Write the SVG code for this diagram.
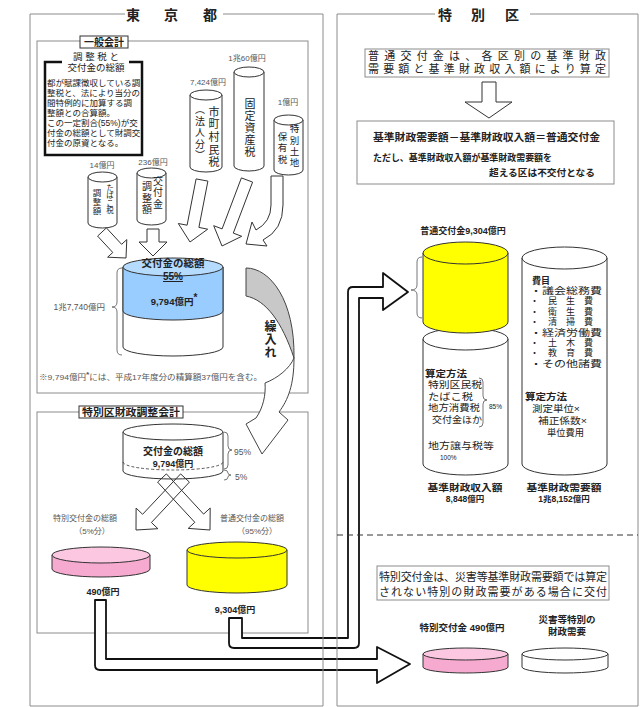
<svg xmlns="http://www.w3.org/2000/svg" width="643" height="707" viewBox="0 0 643 707">
<style>
text{font-family:"Liberation Sans","Noto Sans CJK JP",sans-serif;fill:#222}
.b{font-weight:bold}
.g{fill:#555}
.m{text-anchor:middle}
.v{writing-mode:vertical-rl}
.fr{fill:none;stroke:#8c8c8c;stroke-width:1}
.box{fill:#fff;stroke:#8c8c8c;stroke-width:1}
.cy{stroke:#333;stroke-width:1}
.ha{fill:#fff;stroke:#333;stroke-width:1}
.big{fill:#fff;stroke:#111;stroke-width:1.8;stroke-linejoin:round}
.br{fill:none;stroke:#666;stroke-width:0.9}
</style>
<rect width="643" height="707" fill="#fff"/>

<!-- inner boxes -->
<g id="box-ippan">
<rect class="fr" x="37" y="41" width="271" height="352"/>
<rect x="80" y="36" width="48" height="12" fill="#fff" stroke="#333" stroke-width="1"/>
<text class="b m" x="104" y="46" font-size="10">一般会計</text>
</g>
<g id="box-tokubetsu">
<rect class="fr" x="37" y="412" width="271" height="221"/>
<rect x="79" y="406" width="104" height="12" fill="#fff" stroke="#333" stroke-width="1"/>
<text class="b" x="82" y="416" font-size="10" textLength="98" lengthAdjust="spacingAndGlyphs">特別区財政調整会計</text>
</g>

<!-- big connectors -->
<g id="connectors-main">
<path class="big" d="M229,618 V643 Q229,648 234,648 H354 Q359,648 359,643 V298 H383 V310 L408,292 L383,273 V287 H353 Q348,287 348,292 V638 H242 V618 Z"/>
<path class="big" d="M95,600 V665 Q95,670 100,670 H377 V683 L410,664 L377,647 V659 H106 V600 Z"/>
</g>

<!-- outer frames -->
<g id="frames">
<path class="fr" d="M125,14 H30 V706 H323 V14 H223"/>
<path class="fr" d="M435,14 H337 V706 H638 V14 H530"/>
<line x1="337" y1="535" x2="638" y2="535" stroke="#333" stroke-width="1" stroke-dasharray="6,4"/>
<text class="b m" x="133" y="20" font-size="14">東</text>
<text class="b m" x="171" y="20" font-size="14">京</text>
<text class="b m" x="210" y="20" font-size="14">都</text>
<text class="b m" x="445" y="20" font-size="14">特</text>
<text class="b m" x="478" y="20" font-size="14">別</text>
<text class="b m" x="512" y="20" font-size="14">区</text>
</g>

<!-- explanation box -->
<g id="note-chouseizei">
<path d="M62,62 H45 V155 H142 V62 H129" fill="none" stroke="#111" stroke-width="2.5"/>
<text class="m" font-size="9.5" fill="#333"><tspan x="96" y="60">調 整 税 と</tspan><tspan x="96" y="71">交付金の総額</tspan></text>
<text font-size="8.5" fill="#333"><tspan x="47" y="86">都が賦課徴収している調</tspan><tspan x="47" y="96">整税と、法により当分の</tspan><tspan x="47" y="106">間特例的に加算する調</tspan><tspan x="47" y="116">整額との合算額。</tspan><tspan x="47" y="126">この一定割合(55%)が交</tspan><tspan x="47" y="136">付金の総額として財調交</tspan><tspan x="47" y="146">付金の原資となる。</tspan></text>
</g>

<!-- source cylinders -->
<g id="cyl-shichoson">
<path class="cy" fill="#fff" d="M190,95 V167 A16,5 0 0 0 222,167 V95 Z"/>
<ellipse class="cy" fill="#fff" cx="206" cy="95" rx="16" ry="5"/>
<text class="m g" x="208" y="85" font-size="8">7,424億円</text>
<text class="v" font-size="11" letter-spacing="1.7"><tspan x="213" y="106">市町村民税</tspan><tspan x="199" y="104" font-size="10" letter-spacing="1.5">（法人分）</tspan></text>
</g>
<g id="cyl-kotei">
<path class="cy" fill="#fff" d="M234,72 V166 A15,5 0 0 0 264,166 V72 Z"/>
<ellipse class="cy" fill="#fff" cx="249" cy="72" rx="15" ry="5"/>
<text class="m g" x="247" y="61" font-size="8">1兆60億円</text>
<text class="v" x="249" y="98" font-size="11" letter-spacing="1">固定資産税</text>
</g>
<g id="cyl-tokubetsutochi">
<path class="cy" fill="#fff" d="M274,120 V170 A14.5,5 0 0 0 303,170 V120 Z"/>
<ellipse class="cy" fill="#fff" cx="288.5" cy="120" rx="14.5" ry="5"/>
<text class="m g" x="288" y="105" font-size="8">1億円</text>
<text class="v" font-size="9.5" letter-spacing="1.8"><tspan x="294" y="124">特別土地</tspan><tspan x="282" y="132">保有税</tspan></text>
</g>
<g id="cyl-tabako">
<path class="cy" fill="#fff" d="M88,177 V223 A14.5,5 0 0 0 117,223 V177 Z"/>
<ellipse class="cy" fill="#fff" cx="102.5" cy="177" rx="14.5" ry="5"/>
<text class="m g" x="102" y="168" font-size="8">14億円</text>
<text class="v" font-size="7.5"><tspan x="109" y="184">たばこ税</tspan><tspan x="96" y="189" font-size="8.5" letter-spacing="0.5">調整額</tspan></text>
</g>
<g id="cyl-koufukin">
<path class="cy" fill="#fff" d="M137,173 V220 A14.5,5 0 0 0 166,220 V173 Z"/>
<ellipse class="cy" fill="#fff" cx="151.5" cy="173" rx="14.5" ry="5"/>
<text class="m g" x="153" y="165" font-size="8">236億円</text>
<text class="v" font-size="10" letter-spacing="1.5"><tspan x="157" y="176">交付金</tspan><tspan x="146" y="181">調整額</tspan></text>
</g>

<!-- feed arrows -->
<g id="connectors-feed">
<polygon class="ha" points="106.4,227.9 121.6,244.3 126.8,239.6 126,258 107.6,257.2 112.8,252.5 97.6,236.1"/>
<polygon class="ha" points="147,229 159,229 159,242 167,242 153,256 139,242 147,242"/>
<polygon class="ha" points="196.1,178.9 207.9,181.1 198.9,227.4 207.7,229.2 190,242 178.3,223.5 187.1,225.2"/>
<polygon class="ha" points="241.4,177.9 252.6,182.1 233.3,233.1 241.7,236.3 222,246 213.7,225.7 222.1,228.9"/>
<path class="ha" d="M271,176 L283,176 L283,205 Q283,230 263,240 L267,246 L246,244 L252,222 L256,230 Q271,222 271,205 Z"/>
</g>

<!-- total cylinder general account -->
<g id="cyl-total">
<path class="cy" fill="#fff" d="M123,267 V347 A50,9 0 0 0 223,347 V267 Z"/>
<path class="cy" fill="#99ccff" d="M123,267 V311 A50,9 0 0 0 223,311 V267 Z"/>
<ellipse class="cy" fill="#b5dbff" cx="173" cy="267" rx="50" ry="9"/>
<text class="b m" font-size="10.5"><tspan x="173" y="267">交付金の総額</tspan><tspan x="173" y="280" font-size="10" text-decoration="underline">55%</tspan></text>
<text class="b m" x="174" y="305" font-size="9.5">9,794億円<tspan dy="-4" font-size="10">*</tspan></text>
<path class="br" d="M122,268 Q117,268 117,273 V302 Q117,307 112,307 Q117,307 117,312 V350 Q117,355 122,355"/>
<text class="g" x="105" y="310" font-size="8.5" text-anchor="end">1兆7,740億円</text>
<text class="g" x="39" y="380" font-size="7.5" textLength="223" lengthAdjust="spacingAndGlyphs">※9,794億円<tspan class="b" dy="-3">*</tspan><tspan dy="3">には、平成17年度分の精算額37億円を含む。</tspan></text>
</g>

<!-- special account cylinder -->
<g id="cyl-chousei">
<path class="cy" fill="#fff" d="M123,432 V471 A50,8 0 0 0 223,471 V432 Z"/>
<ellipse class="cy" fill="#fff" cx="173" cy="432" rx="50" ry="8"/>
<path d="M123,462 A50,8 0 0 0 223,462" fill="none" stroke="#444" stroke-width="0.9" stroke-dasharray="3,2"/>
<text class="b m" font-size="10"><tspan x="173" y="455">交付金の総額</tspan><tspan x="173" y="467" font-size="9">9,794億円</tspan></text>
<path class="br" d="M224,432 Q228,432 228,436 V446 Q228,450 232,450 Q228,450 228,454 V465 Q228,469 224,469"/>
<path class="br" d="M224,470 Q228,470 228,473 Q228,475 231,475 Q228,475 228,477 Q228,480 224,480"/>
<text class="g" x="234" y="455" font-size="8.5">95%</text>
<text class="g" x="235" y="480" font-size="8.5">5%</text>
</g>

<!-- split arrows -->
<g id="connectors-split">
<polygon fill="none" stroke="#333" stroke-width="1" points="180.6,473.9 189.4,482.1 151.4,522.5 157.9,528.7 136,530 136.1,508.1 142.6,514.3"/>
<polygon fill="none" stroke="#333" stroke-width="1" points="166.4,473.9 203.6,514.1 210.2,508 210,530 188.2,528.4 194.8,522.3 157.6,482.1"/>
</g>

<g id="label-tokubetsu-total">
<text class="m g" font-size="8"><tspan x="85" y="521">特別交付金の総額</tspan><tspan x="92" y="534">（5%分）</tspan></text>
</g>
<g id="label-futsu-total">
<text class="m g" font-size="8"><tspan x="252" y="521">普通交付金の総額</tspan><tspan x="257" y="534">（95%分）</tspan></text>
</g>

<g id="cyl-pink-left">
<path class="cy" fill="#f7aad0" d="M52,555 V569 A49,8 0 0 0 150,569 V555 Z"/>
<ellipse class="cy" fill="#fbc7e1" cx="101" cy="555" rx="49" ry="8"/>
<text class="b m" x="103" y="595" font-size="9">490億円</text>
</g>
<g id="cyl-yellow-left">
<path class="cy" fill="#ffff00" d="M187,550 V585 A50,8 0 0 0 287,585 V550 Z"/>
<ellipse class="cy" fill="#ffff00" cx="237" cy="550" rx="50" ry="8"/>
<text class="b m" x="235" y="613" font-size="9">9,304億円</text>
</g>

<!-- kuriire arrow -->
<g id="connector-kuriire">
<path d="M294,358 C294,385 288,400 279,412 L288,420 L262,454 L246,424 L256,418 C263,408 266,395 265,383 C278,378 290,368 294,358 Z" fill="#fff" stroke="#444" stroke-width="1"/>
<path d="M246,268 C270,268 295,300 294,358 C282,322 266,300 246,296 Z" fill="#c8c8c8" stroke="#444" stroke-width="1"/>
<text class="b v" x="269" y="320" font-size="12" letter-spacing="1">繰入れ</text>
</g>

<!-- right side -->
<g id="note-futsu">
<rect class="box" x="365" y="49" width="244" height="28" stroke="#777"/>
<text font-size="11" fill="#666"><tspan x="368" y="60" textLength="238" lengthAdjust="spacing">普通交付金は、各区別の基準財政</tspan><tspan x="368" y="73" textLength="238" lengthAdjust="spacing">需要額と基準財政収入額により算定</tspan></text>
</g>
<g id="connector-down">
<polygon class="ha" points="482,82 496,82 496,102 512,102 489,118 465,102 482,102"/>
</g>
<g id="formula">
<rect class="box" x="357" y="121" width="257" height="63" stroke="#777"/>
<text class="b" x="373" y="141" font-size="10" textLength="227" lengthAdjust="spacingAndGlyphs">基準財政需要額－基準財政収入額＝普通交付金</text>
<text class="b" font-size="9.5"><tspan x="373" y="161" textLength="179" lengthAdjust="spacingAndGlyphs">ただし、基準財政収入額が基準財政需要額を</tspan><tspan x="489" y="176" textLength="106" lengthAdjust="spacingAndGlyphs">超える区は不交付となる</tspan></text>
</g>

<g id="cyl-shunyu">
<path class="cy" fill="#fff" d="M423,339 V464 A42.5,11 0 0 0 508,464 V339 Z"/>
<ellipse class="cy" fill="#fff" cx="465.5" cy="339" rx="42.5" ry="11"/>
<text font-size="9.5" fill="#555"><tspan class="b" x="425" y="377" fill="#222" textLength="42" lengthAdjust="spacingAndGlyphs">算定方法</tspan><tspan x="428" y="388" textLength="54" lengthAdjust="spacingAndGlyphs">特別区民税</tspan><tspan x="428" y="400" textLength="45" lengthAdjust="spacingAndGlyphs">たばこ税</tspan><tspan x="428" y="411" textLength="52" lengthAdjust="spacingAndGlyphs">地方消費税</tspan><tspan x="432" y="423" textLength="50" lengthAdjust="spacingAndGlyphs">交付金ほか</tspan><tspan x="428" y="449" textLength="66" lengthAdjust="spacingAndGlyphs">地方譲与税等</tspan><tspan x="440" y="460" font-size="6.5">100%</tspan></text>
<path class="br" d="M479,378 Q483,378 483,382 V396 Q483,400 487,400 Q483,400 483,404 V423 Q483,427 479,427"/>
<text x="489" y="409" font-size="6.5" fill="#555">85%</text>
<text class="b m" font-size="9.5"><tspan x="465" y="491" textLength="75" lengthAdjust="spacingAndGlyphs">基準財政収入額</tspan><tspan x="465" y="502" font-size="8.5">8,848億円</tspan></text>
</g>
<g id="cyl-futsu-right">
<path class="cy" fill="#ffff00" d="M423,253 V322 A42.5,11 0 0 0 508,322 V253 Z"/>
<ellipse class="cy" fill="#ffff00" cx="465.5" cy="253" rx="42.5" ry="11"/>
<text class="b m" x="463" y="234" font-size="9">普通交付金9,304億円</text>
<path class="br" d="M422,257 Q417,257 417,262 V285 Q417,290 411,290 Q417,290 417,295 V313 Q417,318 422,318"/>
</g>
<g id="cyl-juyou">
<path class="cy" fill="#fff" d="M522,258 V464 A42.5,11 0 0 0 607,464 V258 Z"/>
<ellipse class="cy" fill="#fff" cx="564.5" cy="258" rx="42.5" ry="11"/>
<text font-size="9" fill="#333"><tspan class="b" x="532" y="283.5" fill="#222">費目</tspan><tspan x="530" y="294" textLength="72" lengthAdjust="spacingAndGlyphs">・議会総務費</tspan><tspan x="530" y="304.4" textLength="63" lengthAdjust="spacing">・民生費</tspan><tspan x="530" y="314.8" textLength="63" lengthAdjust="spacing">・衛生費</tspan><tspan x="530" y="325.2" textLength="63" lengthAdjust="spacing">・清掃費</tspan><tspan x="530" y="335.6" textLength="72" lengthAdjust="spacingAndGlyphs">・経済労働費</tspan><tspan x="530" y="346" textLength="63" lengthAdjust="spacing">・土木費</tspan><tspan x="530" y="356.4" textLength="63" lengthAdjust="spacing">・教育費</tspan><tspan x="530" y="366.8" textLength="72" lengthAdjust="spacingAndGlyphs">・その他諸費</tspan></text>
<text font-size="9.5" fill="#555"><tspan class="b" x="525" y="400" fill="#222" textLength="42" lengthAdjust="spacingAndGlyphs">算定方法</tspan><tspan x="532" y="412" textLength="48" lengthAdjust="spacingAndGlyphs">測定単位×</tspan><tspan x="538" y="424" textLength="49" lengthAdjust="spacingAndGlyphs">補正係数×</tspan><tspan x="547" y="436" textLength="37" lengthAdjust="spacingAndGlyphs">単位費用</tspan></text>
<text class="b m" font-size="9.5"><tspan x="564" y="491" textLength="75" lengthAdjust="spacingAndGlyphs">基準財政需要額</tspan><tspan x="564" y="502" font-size="8.5">1兆8,152億円</tspan></text>
</g>

<g id="note-tokubetsu">
<rect class="box" x="377" y="566" width="232" height="34" stroke="#777"/>
<text font-size="11" fill="#666"><tspan x="379" y="581" textLength="228" lengthAdjust="spacing">特別交付金は、災害等基準財政需要額では算定</tspan><tspan x="379" y="596" textLength="228" lengthAdjust="spacing">されない特別の財政需要がある場合に交付</tspan></text>
</g>
<g id="cyl-pink-right">
<path class="cy" fill="#f7aad0" d="M423,654 V667 A42.5,6 0 0 0 508,667 V654 Z"/>
<ellipse class="cy" fill="#fbc7e1" cx="465.5" cy="654" rx="42.5" ry="6"/>
<text class="b m" x="462" y="631" font-size="9.5">特別交付金 490億円</text>
</g>
<g id="cyl-saigai">
<path class="cy" fill="#fff" d="M522,654 V667 A43,6 0 0 0 608,667 V654 Z"/>
<ellipse class="cy" fill="#fff" cx="565" cy="654" rx="43" ry="6"/>
<text class="b m" font-size="9.5"><tspan x="567" y="623">災害等特別の</tspan><tspan x="567" y="635">財政需要</tspan></text>
</g>
</svg>
